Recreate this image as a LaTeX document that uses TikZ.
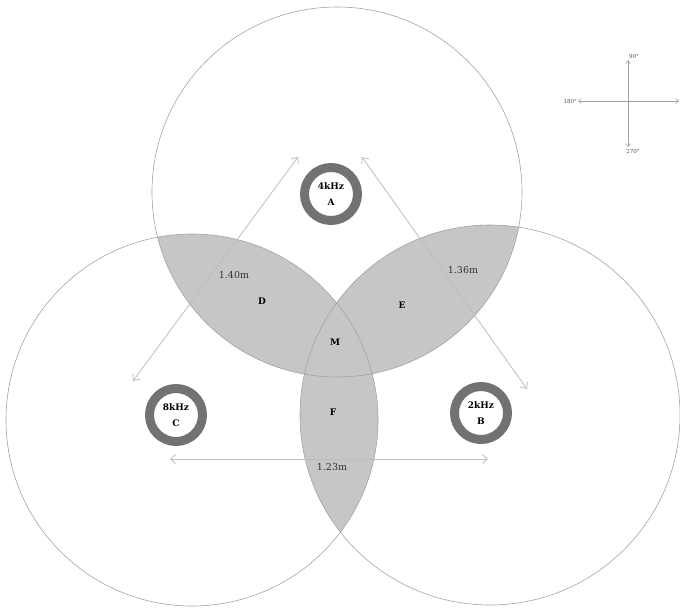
\documentclass[tikz,border=0pt]{standalone}
\usepackage{fontspec}
\setmainfont{DejaVu Serif}
\usetikzlibrary{arrows.meta, positioning}
\definecolor{lensgray}{HTML}{C6C6C6}
\definecolor{ringgray}{HTML}{727272}
\definecolor{rulegray}{HTML}{BDBDBD}
\tikzset{
  zone/.style={draw=gray!72, line width=0.6pt},
  ring/.style={circle, draw=ringgray, line width=9pt, minimum size=53pt, inner sep=0pt,
    align=center, font=\fontsize{9}{10}\selectfont\bfseries},
  zonelabel/.style={font=\fontsize{9}{10}\selectfont\bfseries},
  distlabel/.style={font=\fontsize{9.5}{10}\selectfont, text=black!80},
  distarrow/.style={{Straight Barb[length=5pt,width=9pt]}-{Straight Barb[length=5pt,width=9pt]}, draw=rulegray, line width=0.8pt},
  compass/.style={-{Straight Barb[length=3pt,width=5pt]}, draw=gray!75, line width=0.6pt},
  degree/.style={font=\fontsize{5.5}{6}\selectfont, text=black!70, inner sep=1pt}
}

\begin{document}
\begin{tikzpicture}[x=1pt, y=-1pt]
  \useasboundingbox (0,0) rectangle (680,608);
  \coordinate (cA) at (337,192);
  \coordinate (cB) at (490,415);
  \coordinate (cC) at (192,420);
  % overlaps
  \begin{scope}
    \clip (cA) circle[radius=185pt];
    \fill[lensgray] (cB) circle[radius=190pt];
    \fill[lensgray] (cC) circle[radius=186pt];
  \end{scope}
  \begin{scope}
    \clip (cB) circle[radius=190pt];
    \fill[lensgray] (cC) circle[radius=186pt];
  \end{scope}
  \draw[zone] (cA) circle[radius=185pt];
  \draw[zone] (cB) circle[radius=190pt];
  \draw[zone] (cC) circle[radius=186pt];

  \node[zonelabel] (D) at (262,301) {D};
  \node[zonelabel] (E) at (402,305) {E};
  \node[zonelabel] (M) at (335,342) {M};
  \node[zonelabel] (F) at (333,412) {F};

  % distances
  \coordinate (ac1) at (298,157);
  \coordinate (ac2) at (133,381);
  \coordinate (ab1) at (362,157);
  \coordinate (ab2) at (527,389);
  \coordinate (cb1) at (170,459);
  \coordinate (cb2) at (488,459);
  \draw[distarrow] (ac1) -- (ac2);
  \draw[distarrow] (ab1) -- (ab2);
  \draw[distarrow] (cb1) -- (cb2);
  \node[distlabel] (dAC) at (234,275) {1.40m};
  \node[distlabel] (dAB) at (463,270) {1.36m};
  \node[distlabel] (dCB) at (332,467) {1.23m};

  % sources
  \node[ring] (A) at (331,194) {4kHz\\[6pt]A};
  \node[ring] (C) at (176,415) {8kHz\\[6pt]C};
  \node[ring] (B) at (481,413) {2kHz\\[6pt]B};

  % compass
  \coordinate (O) at (628,101);
  \coordinate (N) at (628,60);
  \coordinate (S) at (628,147);
  \coordinate (W) at (578,101);
  \coordinate (Ea) at (679,101);
  \draw[compass] (O) -- (N);
  \draw[compass] (O) -- (S);
  \draw[compass] (O) -- (W);
  \draw[compass] (O) -- (Ea);
  \node[degree, right=0pt of N, yshift=4pt] (n90) {90°};
  \node[degree, below=1pt of S, xshift=5pt] (n270) {270°};
  \node[degree, left=0pt of W] (n180) {180°};
  \node[degree, anchor=west] (n0) at (Ea) {0°};
\end{tikzpicture}
\end{document}
